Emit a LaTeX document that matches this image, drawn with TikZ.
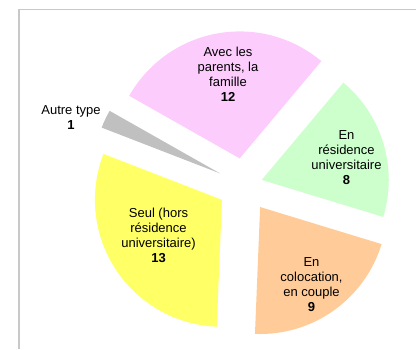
\documentclass[tikz,border=0pt]{standalone}
\usepackage{fontspec}
\setmainfont{Liberation Sans}
\usetikzlibrary{calc}
\definecolor{framegray}{HTML}{C8C8C8}
\definecolor{famcol}{HTML}{FCCCFC}
\definecolor{autrecol}{HTML}{C0C0C0}
\definecolor{seulcol}{HTML}{FFFF66}
\definecolor{colocol}{HTML}{FFCC99}
\definecolor{residcol}{HTML}{CCFFCC}
\begin{document}
\begin{tikzpicture}[x=0.75pt,y=0.75pt,line join=round,font=\fontsize{9.75}{11.25}\selectfont,
		lbl/.style={align=center,inner sep=0pt}]
			\useasboundingbox (0,0) rectangle (416,349);
			\draw[color=framegray,line width=1pt] (19,0) -- (19,339.5) -- (416,339.5);
			\coordinate (O) at (244.5,164);
			\foreach \a/\b/\d/\c/\n in {50/150.465/27/famcol/fam,150.465/158.837/27/autrecol/autre,158.837/267.674/27/seulcol/seul,267.674/343.023/27/colocol/coloc,343.023/410/18/residcol/resid}
			\fill[\c] ($(O)+({(\a+\b)/2}:\d)$) coordinate (\n) -- ++(\a:127) arc[start angle=\a,end angle=\b,radius=127] -- cycle;
			\node[lbl] (famlbl) at (228,275) {Avec les\\parents, la\\famille\\\textbf{12}};
			\node[lbl] (residlbl) at (346.5,191.5) {En\\résidence\\universitaire\\\textbf{8}};
			\node[lbl] (coloclbl) at (311.5,64.5) {En\\colocation,\\en couple\\\textbf{9}};
			\node[lbl] (seullbl) at (158.5,113.5) {Seul (hors\\résidence\\universitaire)\\\textbf{13}};
			\node[lbl] (autrelbl) at (71,231) {Autre type\\\textbf{1}};
		\end{tikzpicture}
\end{document}
